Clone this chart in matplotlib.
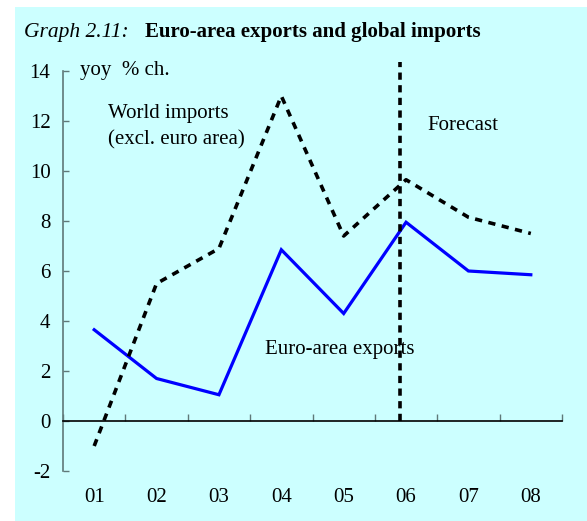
import numpy as np
import matplotlib
matplotlib.use("Agg")
import matplotlib.pyplot as plt
from matplotlib.patches import Rectangle

# data
years = ["01", "02", "03", "04", "05", "06", "07", "08"]
euro_exports = [3.65, 1.7, 1.05, 6.85, 4.3, 7.95, 6.0, 5.85]
world_imports = [-1.0, 5.5, 6.9, 13.0, 7.4, 9.65, 8.15, 7.5]
forecast_at = 4.9

plt.rcParams['font.family'] = ['Liberation Serif', 'DejaVu Serif']
fs = 15

W, H = 587, 521
fig = plt.figure(figsize=(W / 100, H / 100), dpi=100)
fig.patch.set_facecolor("white")
# cyan panel behind everything
fig.patches.append(Rectangle((15 / W, 0), 1 - 15 / W, 1 - 7 / H, transform=fig.transFigure,
                             facecolor="#ccffff", edgecolor="none", zorder=-10))

ax = fig.add_axes([63 / W, 1 - 471 / H, (562 - 63) / W, 400 / H])
ax.set_facecolor("none")

x = np.arange(len(years))
ax.plot(x, euro_exports, color="#0000ff", lw=2.3, solid_joinstyle="miter")
ax.plot(x, world_imports, color="black", lw=2.6, dashes=(2.0, 1.8))
ax.plot([forecast_at, forecast_at], [0, 14.35], color="black", lw=2.6,
        dashes=(2.0, 1.5), clip_on=False)

ax.set_xlim(-0.5, 7.5)
ax.set_ylim(-2, 14)
ax.set_yticks(range(-2, 15, 2))
ax.set_yticklabels([str(v) for v in range(-2, 15, 2)])

ax.spines["top"].set_visible(False)
ax.spines["right"].set_visible(False)
ax.spines["left"].set_color("#5f7878")
ax.spines["left"].set_linewidth(1.2)
ax.spines["bottom"].set_position(("data", 0))
ax.spines["bottom"].set_linewidth(1.2)

ax.tick_params(axis="y", direction="in", length=4, width=1, color="#5f7878",
               labelsize=fs, pad=9)
ax.set_xticks(x)
ax.set_xticklabels(years)
ax.set_xticks(np.arange(-0.5, 8, 1), minor=True)
ax.tick_params(axis="x", which="major", length=0, labelsize=fs, pad=48)
ax.tick_params(axis="x", which="minor", direction="in", length=5, width=1, color="#5f7878")

# annotations
tr = ax.get_yaxis_transform()
ax.text(0.034, 14, "yoy  % ch.", transform=tr, fontsize=fs, va="center")
ax.text(0.09, 12.3, "World imports", transform=tr, fontsize=fs, va="center")
ax.text(0.09, 11.25, "(excl. euro area)", transform=tr, fontsize=fs, va="center")
ax.text(0.731, 11.8, "Forecast", transform=tr, fontsize=fs, va="center")
ax.text(0.405, 2.85, "Euro-area exports", transform=tr, fontsize=fs, va="center")

# title
fig.text(24 / W, 1 - 32 / H, "Graph 2.11:", style="italic", fontsize=15.5, va="center")
fig.text(145 / W, 1 - 32 / H, "Euro-area exports and global imports", fontweight="bold",
         fontsize=fs, va="center")

fig.savefig("out.png", dpi=100)
